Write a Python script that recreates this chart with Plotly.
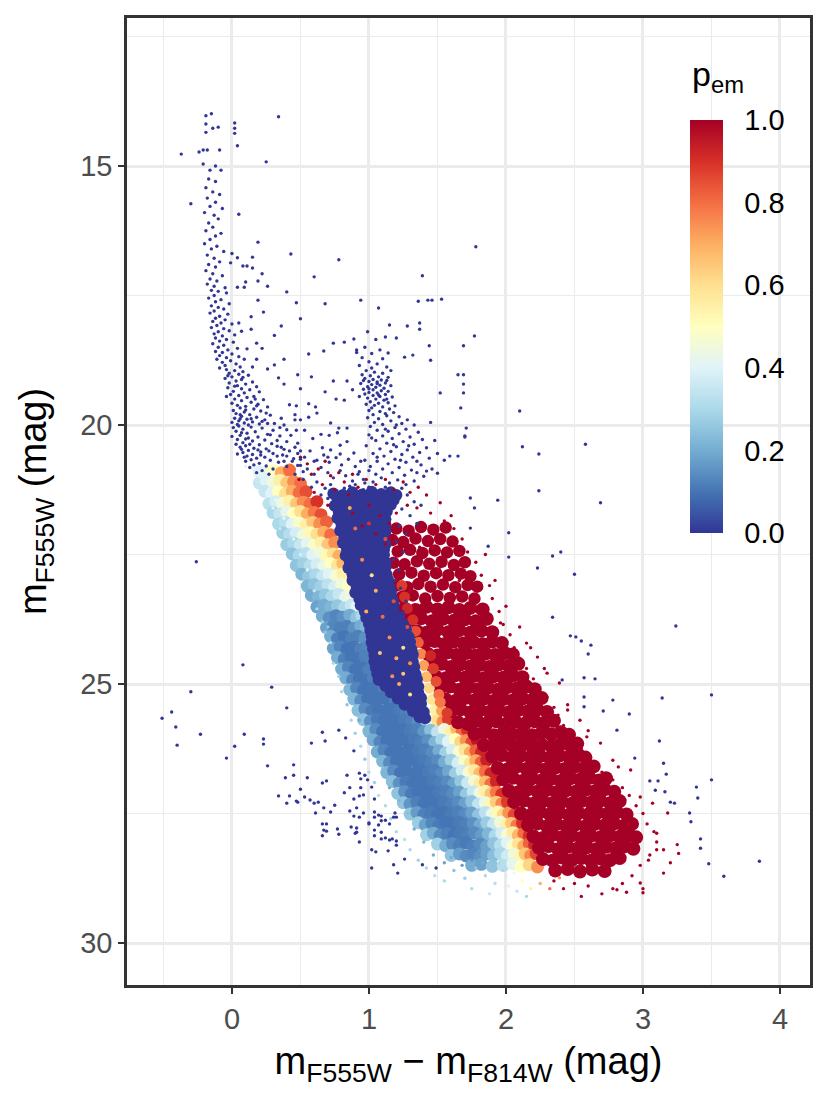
import plotly.graph_objects as go

# ---------------- data (colour index, magnitude[, p_em]) ----------------
# p_em = 0 : upper main sequence
upper_ms = [(-0.19,14.03),(-0.15,13.99),(-0.19,14.19),(-0.14,14.27),(-0.10,14.25),(-0.19,14.35),(0.02,14.17),(0.02,14.27),(0.02,14.37),(0.04,14.61),(-0.21,14.69),(-0.24,14.73),(-0.18,14.69),(-0.09,14.69),(-0.21,14.96),(-0.16,15.08),(-0.12,15.0),(-0.08,15.08),
(-0.17,15.25),(-0.12,15.3),(-0.19,15.42),(-0.14,15.5),(-0.09,15.55),(-0.18,15.62),(-0.12,15.7),(-0.16,15.78),(-0.07,15.82),(-0.2,15.9),(-0.13,15.95),(-0.1,16.02),(-0.17,16.1),(-0.14,16.18),(-0.19,16.25),(-0.08,16.3),(-0.12,16.35),(-0.16,16.42),(-0.2,16.5),(-0.11,16.55),(-0.15,16.6),(-0.06,16.65),(-0.18,16.72),(-0.13,16.78),(-0.09,16.85),(-0.17,16.9),(-0.12,16.95),(-0.19,17.02),(-0.14,17.08),(-0.07,17.12),(-0.16,17.18),(-0.11,17.22),(-0.18,17.28),(-0.13,17.32),(-0.05,17.35),
(-0.15,17.4),(-0.1,17.42),(-0.04,17.45),(-0.13,17.5),(-0.17,17.55),(-0.08,17.58),(-0.12,17.62),(-0.02,17.66),(-0.15,17.7),(-0.1,17.73),(-0.06,17.76),(-0.13,17.8),(-0.16,17.84),(-0.03,17.86),(-0.09,17.9),(-0.12,17.94),(-0.05,17.97),(-0.14,18.0),(-0.08,18.03),(0.0,18.05),(-0.11,18.08),(-0.15,18.12),(-0.06,18.14),(-0.02,18.18),(-0.1,18.2),(-0.13,18.24),(0.02,18.26),(-0.07,18.28),(-0.12,18.32),(-0.04,18.35),(-0.09,18.38),(0.01,18.4),(-0.14,18.43),(-0.06,18.46),(-0.1,18.5),(0.04,18.52),(-0.03,18.55),(-0.12,18.58),(-0.07,18.6),(0.0,18.63),(-0.09,18.66),(0.05,18.68),(-0.04,18.7),(-0.11,18.73),(-0.01,18.76),(-0.07,18.79),(0.03,18.82),(-0.05,18.85),(0.06,18.88),(-0.09,18.9),
(-0.04,18.93),(0.02,18.95),(0.08,18.97),(-0.02,19.0),(0.05,19.02),(0.12,19.04),(0.0,19.07),(-0.05,19.1),(0.07,19.12),(0.03,19.15),(0.15,19.17),(-0.02,19.19),(0.1,19.21),(0.04,19.24),(0.18,19.26),(-0.03,19.28),(0.07,19.3),(0.13,19.32),(0.01,19.35),(0.2,19.36),(0.09,19.38),(-0.01,19.41),(0.05,19.43),(0.16,19.45),(0.11,19.47),(0.02,19.5),(0.23,19.51),(0.07,19.53),(0.14,19.56),(0.0,19.58),(0.19,19.6),(0.04,19.62),(0.1,19.64),(0.26,19.65),(0.06,19.67),(0.16,19.69),(0.01,19.72),(0.21,19.73),(0.09,19.75),(0.03,19.78),(0.13,19.8),(0.28,19.81),(0.07,19.83),(0.18,19.85),(0.02,19.87),(0.11,19.89),(0.24,19.9),(0.05,19.92),(0.15,19.94),(0.09,19.96),(0.31,19.97),(0.2,19.98),(0.04,19.99),(0.12,20.0),(-0.03,19.05),(-0.04,19.45),(0.08,19.08),(0.02,19.25),(0.06,19.88),(0.0,19.95),(0.17,19.5),
(0.05,20.02),(0.14,20.04),(0.22,20.06),(0.08,20.08),(0.3,20.1),(0.03,20.12),(0.17,20.13),(0.11,20.16),(0.26,20.18),(0.06,20.2),(0.35,20.21),(0.19,20.23),(0.12,20.25),(0.04,20.28),(0.24,20.29),(0.15,20.31),(0.4,20.32),(0.08,20.34),(0.29,20.36),(0.2,20.38),(0.1,20.4),(0.33,20.41),(0.06,20.43),(0.16,20.45),(0.25,20.46),(0.12,20.49),(0.42,20.5),(0.21,20.52),(0.08,20.53),(0.3,20.55),(0.15,20.57),(0.37,20.58),(0.11,20.6),(0.24,20.62),(0.18,20.64),(0.45,20.65),(0.14,20.67),(0.28,20.68),(0.1,20.7),(0.34,20.72),(0.2,20.74),(0.16,20.77),(0.25,20.79),(0.4,20.8),(0.13,20.82),(0.3,20.85),(0.22,20.88),(0.18,20.92),(0.27,20.95),(0.48,20.78),(0.52,20.9),
(0.01,20.05),(0.07,20.15),(0.0,20.22),(0.1,20.27),(0.03,20.37),(0.13,20.37),(0.07,20.47),(0.19,20.48),(0.04,20.56),(0.09,20.62),(0.21,20.58),(0.27,20.5),(0.33,20.6),(0.38,20.7),(0.06,19.8),(0.14,19.88),(0.22,19.93),(0.1,19.71),(0.18,19.63),(0.25,19.77),(0.35,20.05),(0.43,20.2),(0.48,20.35),(0.5,20.5),(0.36,20.43)]

# p_em = 0 : stars scattered between the main sequence and the giant branch
ms_scatter = [(0.34,14.05),(0.25,14.92),(-0.30,15.73),(-0.37,14.77),(0.05,15.93),(0.19,16.47),(0.43,16.7),(0.78,16.81),(0.60,17.14),(1.39,17.12),(0.94,17.59),(1.36,17.61),(1.43,17.59),(1.46,17.59),(1.53,17.57),(0.68,17.66),(0.47,17.64),(0.50,17.95),(1.07,17.74),(1.77,18.28),(1.69,18.47),(1.37,18.03),(1.37,18.15),(1.28,18.09),(1.15,18.07),(1.12,18.30),(1.20,18.32),(0.89,18.34),(0.91,18.55),(0.74,18.42),(0.82,18.40),(0.67,18.57),(0.56,18.63),(1.14,18.61),(1.26,18.69),(1.32,18.65),(1.44,18.47),(1.45,18.75),(1.69,19.03),(1.65,19.03),(1.69,19.21),(1.69,19.38),(1.52,19.38),(1.67,19.67),(1.71,20.06),(1.70,20.21),(1.65,20.6),(1.59,20.6),(1.55,20.68),(1.50,20.93),(1.42,20.89),
(0.0,16.69),(0.04,16.77),(0.15,16.76),(0.08,16.93),(0.11,16.93),(0.15,16.97),(-0.01,16.87),(0.22,17.08),(0.19,17.22),(0.1,17.24),(0.26,17.32),(0.04,17.34),(0.09,17.34),(0.40,17.43),(0.19,17.59),(0.23,17.82),(0.14,17.91),(0.05,18.03),(0.14,18.15),(0.36,18.09),(0.31,18.27),(0.07,18.19),(0.18,18.42),(0.22,18.52),(0.11,18.53),(0.09,18.73),(0.18,18.73),(0.15,18.88),(0.26,18.92),(0.31,18.84),(0.38,18.73),(0.34,19.09),(0.38,19.21),(0.48,19.03),(0.58,19.07),(0.50,19.3),(0.68,19.36),(0.74,19.15),(0.84,19.15),(0.88,19.32),(0.82,19.52),(0.76,19.5),(0.56,19.59),(0.61,19.65),(0.62,19.77),(0.56,19.85),(0.42,19.61),(0.47,19.63),(0.36,19.87),(0.46,19.8),(0.46,19.9),(0.5,19.9),(0.53,20.1),(0.47,20.1),(0.40,20.09),(0.38,20.0),(0.72,19.96),(0.78,20.06),(0.84,20.06),(0.77,20.15),(0.71,20.2),(0.65,20.18),(0.59,20.26),(0.66,20.44),(0.72,20.48),(0.79,20.39),(0.84,20.32),(0.89,20.54),(0.79,20.56),(0.70,20.62),(0.6,20.7),(0.5,20.66),(0.46,20.43),(0.38,20.47),(0.33,20.3),(0.28,20.19),(0.26,19.97),(1.78,16.56),(2.1,19.73)]

# p_em = 0 : red clump and red giant branch
rgb = [(0.98,18.95),(1.04,18.98),(1.1,19.0),(0.95,19.03),(1.01,19.05),(1.07,19.07),(1.14,19.08),(0.97,19.1),(1.03,19.12),(1.09,19.13),(1.0,19.16),(1.06,19.17),(1.12,19.19),(0.94,19.2),(1.02,19.22),(1.08,19.23),(1.16,19.24),(0.99,19.26),(1.05,19.27),(1.11,19.29),(0.96,19.31),(1.03,19.32),(1.09,19.34),(1.14,19.35),(1.0,19.37),(1.06,19.38),(0.97,19.4),(1.12,19.41),(1.03,19.43),(1.08,19.45),(1.17,19.46),(0.99,19.48),(1.05,19.5),(1.11,19.52),(1.01,19.55),(1.14,19.57),(1.07,19.58),(0.98,19.6),(1.04,19.62),(1.19,19.63),(1.1,19.65),(1.02,19.67),(1.15,19.69),(0.96,19.14),(1.13,19.14),(1.06,19.2),(1.0,19.3),(1.07,19.42),(1.13,19.5),(0.93,19.45),
(0.99,18.2),(1.05,18.35),(0.97,18.5),(1.08,18.55),(1.02,18.62),(0.95,18.7),(1.1,18.72),(1.0,18.78),(1.06,18.82),(0.93,18.85),(1.13,18.88),(1.02,18.9),(0.91,18.6),(1.16,18.95),
(1.0,19.72),(1.08,19.74),(1.18,19.76),(1.03,19.8),(1.13,19.82),(1.22,19.84),(0.99,19.86),(1.07,19.88),(1.28,19.9),(1.16,19.92),(1.04,19.95),(1.24,19.97),(1.1,19.99),(1.33,20.0),(1.01,20.03),(1.19,20.05),(1.27,20.08),(1.06,20.1),(1.14,20.12),(1.36,20.14),(1.22,20.17),(1.0,20.19),(1.1,20.21),(1.3,20.23),(1.17,20.26),(1.39,20.28),(1.05,20.3),(1.25,20.32),(1.13,20.35),(1.33,20.37),(0.98,20.4),(1.2,20.42),(1.42,20.44),(1.08,20.46),(1.28,20.48),(1.16,20.51),(1.37,20.53),(1.03,20.55),(1.24,20.57),(1.11,20.6),(1.32,20.62),(1.44,20.64),(1.19,20.66),(0.97,20.68),(1.06,20.7),(1.27,20.72),(1.14,20.75),(1.38,20.77),(1.01,20.8),(1.22,20.82),(1.1,20.85),(1.31,20.87),(0.93,20.9),(1.17,20.92),(1.05,20.95),(1.26,20.97),(1.4,20.99),(1.12,19.78),(1.2,20.0),(1.35,20.7),(1.45,19.95),(1.48,20.3),(1.5,20.55),(1.46,20.85),
(0.96,21.05),(1.03,21.1),(1.09,21.02),(1.15,21.12),(1.21,21.06),(1.27,21.15),(1.33,21.08),(0.9,21.15),(1.12,21.2),(1.24,21.22),(1.0,21.2),(1.06,20.62),(1.18,20.38),(1.29,20.4),(1.12,20.08),(1.02,20.25),(1.23,20.68),(1.35,20.92)]

# p_em = 0 : stars between the main-sequence turn-off and the wedge
bridge = [(0.48,20.55),(0.53,20.62),(0.57,20.5),(0.62,20.68),(0.67,20.58),(0.71,20.72),(0.76,20.63),(0.8,20.77),(0.85,20.66),(0.9,20.8),(0.94,20.7),(0.55,20.85),(0.6,20.95),(0.65,20.82),(0.7,20.92),(0.74,21.02),(0.79,20.88),(0.83,20.98),(0.88,21.08),(0.92,20.95),(0.97,21.12),(0.62,21.1),(0.68,21.22),(0.72,21.15),(0.77,21.3),(0.82,21.22),(0.86,21.18),(0.91,21.28),(0.96,21.25),(0.58,21.2),(0.65,21.35),(0.7,21.42),(0.75,21.5),(0.8,21.45),(0.44,20.7),(0.5,20.78),(0.46,20.95),(0.52,21.05),(0.4,20.6),(1.0,20.88),(1.28,21.35),(1.33,21.48),(1.38,21.55),(1.24,21.62),(1.3,21.75),(1.35,21.9),(1.22,21.95),(1.27,22.1),(1.2,22.25),(1.25,22.45),(1.18,22.6),(1.22,22.8),(1.19,23.0),(1.23,23.15),(1.27,23.4),(1.25,23.6)]

# p_em = 0 : field stars
field = [(0.08,24.63),(-0.30,25.15),(0.29,25.06),(-0.44,25.54),(-0.51,25.66),(-0.41,25.83),(-0.40,26.18),(-0.23,25.97),(0.40,25.46),(0.09,25.97),(0.02,26.2),(-0.04,26.43),(0.23,26.06),(0.23,26.16),(0.26,26.58),(0.66,25.93),(0.78,25.89),(0.58,26.14),(0.68,26.1),(0.83,26.04),(0.89,26.29),(0.45,26.56),(0.45,26.76),(0.39,26.81),(0.55,26.81),(0.66,26.91),(0.69,26.87),(0.50,27.03),(0.84,26.76),(0.93,26.72),(0.97,26.76),(0.94,26.83),(0.99,26.85),(0.86,27.0),(0.94,27.0),(1.02,26.99),(0.34,27.16),(0.42,27.16),(0.40,27.3),(0.47,27.26),(0.48,27.28),(0.53,27.18),(0.57,27.24),(0.60,27.3),(0.63,27.28),(0.82,27.1),(0.89,27.22),(0.93,27.16),(0.96,27.14),(1.04,27.22),(0.75,27.34),(0.67,27.39),(0.72,27.47),(0.61,27.49),(0.86,27.45),(0.91,27.39),(0.96,27.49),(0.89,27.55),(0.93,27.57),(1.0,27.68),(1.04,27.47),(1.04,27.57),(1.07,27.53),(1.09,27.55),(1.09,27.64),(1.12,27.63),(1.15,27.70),(1.19,27.49),(1.20,27.57),(1.18,27.57),(0.66,27.70),(0.69,27.70),(0.67,27.82),(0.69,27.84),(0.66,27.93),(0.77,27.80),(0.78,27.90),(0.87,27.76),(0.91,27.78),(0.90,27.88),(0.91,27.86),(0.93,28.05),(1.0,27.70),(1.04,27.82),(1.07,27.72),(1.04,27.93),(1.09,27.86),(1.09,27.99),(1.12,27.97),(1.15,28.01),(1.17,27.99),(1.20,28.03),(1.20,28.11),(1.02,28.2),(1.05,28.24),(1.14,28.22),(1.02,28.55),(1.18,28.49),(1.21,28.65),(1.26,28.38),(1.49,28.55),(1.39,28.49),(-0.26,22.64),
(1.70,20.23),(2.12,20.42),(2.24,20.56),(2.58,20.37),(2.24,21.27),(1.94,21.45),(2.69,21.5),(1.74,21.41),(1.77,21.6),(1.74,21.99),(1.87,22.34),(2.02,22.08),(2.02,22.55),(2.23,22.76),(2.34,22.53),(2.40,22.45),(2.50,22.88),(2.34,23.71),(2.47,24.07),(2.51,24.09),(2.55,24.17),(2.62,24.25),(2.60,24.42),(3.24,23.88),(2.41,24.92),(2.57,24.88),(2.65,24.9),(2.57,25.25),(2.57,25.44),(2.71,25.52),(2.78,25.31),(2.90,25.58),(3.14,25.27),(3.50,25.21),(2.81,25.89),(2.94,26.43),(3.12,26.1),(3.15,26.53),(3.17,26.74),(3.05,26.87),(3.11,26.87),(3.09,27.05),(3.16,27.08),(3.50,26.85),(3.39,26.99),(3.40,27.2),(3.20,27.28),(3.23,27.3),(3.34,27.49),(3.35,27.66),(3.42,27.99),(3.42,28.17),(3.48,28.47),(3.59,28.71),(3.85,28.42)]

# p_em = 0 : dense wedge below the giant branch
wedge = [(0.74,21.32),(0.81,21.35),(0.88,21.3),(0.95,21.34),(1.02,21.29),(1.09,21.33),(1.16,21.3),(1.2,21.35),
(0.77,21.44),(0.84,21.41),(0.91,21.46),(0.98,21.43),(1.05,21.47),(1.12,21.42),(1.18,21.45),
(0.75,21.56),(0.82,21.59),(0.89,21.54),(0.96,21.57),(1.03,21.55),(1.1,21.58),(1.16,21.54),
(0.78,21.68),(0.85,21.65),(0.92,21.7),(0.99,21.66),(1.06,21.69),(1.13,21.67),
(0.77,21.8),(0.84,21.83),(0.91,21.78),(0.98,21.81),(1.05,21.79),(1.12,21.82),
(0.8,21.92),(0.87,21.9),(0.94,21.94),(1.01,21.91),(1.08,21.93),(1.12,21.95),
(0.79,22.04),(0.86,22.06),(0.93,22.02),(1.0,22.05),(1.07,22.03),(1.12,22.06),
(0.82,22.16),(0.89,22.14),(0.96,22.18),(1.03,22.15),(1.1,22.17),
(0.81,22.28),(0.88,22.3),(0.95,22.26),(1.02,22.29),(1.09,22.27),(1.12,22.3),
(0.84,22.4),(0.91,22.38),(0.98,22.42),(1.05,22.39),(1.11,22.41),
(0.83,22.52),(0.9,22.54),(0.97,22.5),(1.04,22.53),(1.11,22.51),
(0.86,22.64),(0.93,22.62),(1.0,22.66),(1.07,22.63),(1.12,22.65),
(0.85,22.76),(0.92,22.78),(0.99,22.74),(1.06,22.77),(1.12,22.75),
(0.88,22.88),(0.95,22.86),(1.02,22.9),(1.09,22.87),(1.13,22.89),
(0.88,23.0),(0.95,23.02),(1.02,22.98),(1.09,23.01),(1.14,22.99),
(0.91,23.12),(0.98,23.1),(1.05,23.14),(1.12,23.11),(1.15,23.13),
(0.9,23.24),(0.97,23.26),(1.04,23.22),(1.11,23.25),(1.16,23.23),
(0.93,23.36),(1.0,23.34),(1.07,23.38),(1.14,23.35),(1.17,23.37),
(0.94,23.48),(1.01,23.5),(1.08,23.46),(1.15,23.49),(1.18,23.47),
(0.97,23.6),(1.04,23.58),(1.11,23.62),(1.18,23.59),
(0.98,23.72),(1.05,23.74),(1.12,23.7),(1.19,23.73),(1.22,23.71),
(1.0,23.84),(1.07,23.82),(1.14,23.86),(1.21,23.83),(1.25,23.85),
(1.01,23.96),(1.08,23.98),(1.15,23.94),(1.22,23.97),(1.27,23.95),
(1.02,24.08),(1.09,24.06),(1.16,24.1),(1.23,24.07),(1.29,24.09),
(1.02,24.2),(1.09,24.22),(1.16,24.18),(1.23,24.21),(1.3,24.19),
(1.03,24.32),(1.1,24.3),(1.17,24.34),(1.24,24.31),(1.31,24.33),
(1.04,24.44),(1.11,24.46),(1.18,24.42),(1.25,24.45),(1.32,24.43),
(1.04,24.56),(1.11,24.54),(1.18,24.58),(1.25,24.55),(1.32,24.57),
(1.05,24.68),(1.12,24.7),(1.19,24.66),(1.26,24.69),(1.33,24.67),
(1.06,24.8),(1.13,24.78),(1.2,24.82),(1.27,24.79),(1.34,24.81),
(1.07,24.92),(1.14,24.94),(1.21,24.9),(1.28,24.93),(1.35,24.91),
(1.12,25.04),(1.19,25.02),(1.26,25.06),(1.33,25.03),(1.36,25.05),
(1.16,25.16),(1.23,25.18),(1.3,25.14),(1.36,25.17),
(1.21,25.28),(1.28,25.26),(1.35,25.3),(1.38,25.27),
(1.26,25.4),(1.32,25.42),(1.38,25.38),
(1.32,25.52),(1.37,25.5),(1.4,25.54),
(1.37,25.64),(1.41,25.66)]

# lower main sequence, dense part: (colour, mag, p_em)
lower_ms = [(0.2,20.9,0.4),(0.25,20.93,0.42),(0.3,20.88,0.5),(0.36,20.92,0.7),(0.42,20.87,0.8),
(0.2,21.12,0.35),(0.25,21.08,0.4),(0.3,21.11,0.45),(0.35,21.07,0.55),(0.4,21.12,0.65),(0.45,21.09,0.75),(0.5,21.13,0.8),
(0.24,21.28,0.35),(0.29,21.32,0.4),(0.34,21.29,0.5),(0.39,21.33,0.6),(0.44,21.28,0.7),(0.49,21.31,0.8),(0.54,21.29,0.85),
(0.27,21.52,0.33),(0.32,21.48,0.38),(0.37,21.51,0.45),(0.42,21.47,0.55),(0.47,21.52,0.65),(0.52,21.49,0.75),(0.57,21.53,0.8),(0.62,21.48,0.9),
(0.3,21.69,0.3),(0.35,21.72,0.35),(0.4,21.68,0.42),(0.45,21.71,0.5),(0.5,21.67,0.6),(0.55,21.72,0.7),(0.6,21.69,0.78),(0.65,21.73,0.85),
(0.34,21.91,0.3),(0.39,21.88,0.33),(0.44,21.92,0.4),(0.49,21.89,0.48),(0.54,21.93,0.55),(0.59,21.88,0.65),(0.64,21.91,0.75),(0.69,21.87,0.82),
(0.37,22.08,0.28),(0.42,22.12,0.32),(0.47,22.09,0.38),(0.52,22.13,0.45),(0.57,22.08,0.52),(0.62,22.11,0.6),(0.67,22.07,0.7),(0.72,22.12,0.8),
(0.4,22.31,0.27),(0.45,22.28,0.3),(0.5,22.32,0.35),(0.55,22.29,0.42),(0.6,22.33,0.48),(0.65,22.28,0.55),(0.7,22.31,0.65),(0.75,22.27,0.75),
(0.44,22.49,0.25),(0.49,22.52,0.3),(0.54,22.48,0.33),(0.59,22.51,0.4),(0.64,22.47,0.45),(0.69,22.52,0.52),(0.74,22.49,0.6),(0.78,22.53,0.7),
(0.47,22.71,0.25),(0.52,22.68,0.28),(0.57,22.72,0.32),(0.62,22.69,0.38),(0.67,22.73,0.43),(0.72,22.68,0.5),(0.77,22.71,0.58),(0.81,22.67,0.68),
(0.51,22.88,0.22),(0.56,22.92,0.26),(0.61,22.89,0.3),(0.66,22.93,0.35),(0.71,22.88,0.4),(0.76,22.91,0.47),(0.81,22.87,0.55),
(0.55,23.11,0.22),(0.6,23.08,0.25),(0.65,23.12,0.28),(0.7,23.09,0.33),(0.75,23.13,0.38),(0.8,23.08,0.45),(0.85,23.11,0.5),
(0.58,23.29,0.2),(0.63,23.32,0.22),(0.68,23.28,0.26),(0.73,23.31,0.3),(0.78,23.27,0.35),(0.83,23.32,0.42),(0.87,23.29,0.45),
(0.62,23.51,0.18),(0.67,23.48,0.2),(0.72,23.52,0.22),(0.77,23.49,0.26),(0.82,23.53,0.3),(0.87,23.48,0.35),(0.91,23.51,0.4),
(0.66,23.69,0.2),(0.71,23.72,0.15),(0.76,23.68,0.13),(0.81,23.71,0.15),(0.86,23.67,0.2),(0.91,23.72,0.25),(0.95,23.69,0.3),
(0.69,23.91,0.18),(0.74,23.88,0.13),(0.79,23.92,0.12),(0.84,23.89,0.12),(0.89,23.93,0.15),(0.94,23.88,0.2),(0.98,23.91,0.22),
(0.72,24.08,0.2),(0.77,24.12,0.12),(0.82,24.09,0.1),(0.87,24.13,0.12),(0.92,24.08,0.12),(0.97,24.11,0.15),
(0.74,24.31,0.18),(0.79,24.28,0.13),(0.84,24.32,0.1),(0.89,24.29,0.1),(0.94,24.33,0.12),(0.99,24.28,0.13),
(0.77,24.49,0.2),(0.82,24.52,0.12),(0.87,24.48,0.1),(0.92,24.51,0.1),(0.97,24.47,0.12),(1.01,24.52,0.12),
(0.8,24.71,0.2),(0.85,24.68,0.13),(0.9,24.72,0.1),(0.95,24.69,0.1),(1.0,24.73,0.12),(1.04,24.68,0.12),
(0.83,24.88,0.2),(0.88,24.92,0.13),(0.93,24.89,0.1),(0.98,24.93,0.1),(1.03,24.88,0.12),(1.07,24.91,0.12),(1.12,24.97,0.13),
(0.86,25.11,0.22),(0.91,25.08,0.13),(0.96,25.12,0.1),(1.01,25.09,0.1),(1.06,25.13,0.1),(1.11,25.08,0.12),(1.16,25.14,0.13),
(0.89,25.29,0.22),(0.94,25.32,0.14),(0.99,25.28,0.1),(1.04,25.31,0.1),(1.09,25.27,0.1),(1.14,25.32,0.1),(1.19,25.33,0.12),(1.24,25.36,0.13),
(0.92,25.51,0.24),(0.97,25.48,0.14),(1.02,25.52,0.11),(1.07,25.49,0.1),(1.12,25.53,0.1),(1.17,25.48,0.1),(1.22,25.52,0.11),(1.27,25.55,0.12),(1.32,25.58,0.15),
(0.96,25.69,0.25),(1.01,25.72,0.15),(1.06,25.68,0.11),(1.11,25.71,0.1),(1.16,25.67,0.1),(1.21,25.72,0.1),(1.26,25.69,0.11),(1.31,25.73,0.12),(1.36,25.74,0.15),(1.41,25.76,0.25),(1.46,25.72,0.45),(1.5,25.69,0.6),(1.54,25.73,0.75),(1.58,25.68,0.88),
(1.0,25.91,0.22),(1.05,25.88,0.14),(1.1,25.92,0.1),(1.15,25.89,0.1),(1.2,25.93,0.1),(1.25,25.88,0.1),(1.3,25.91,0.11),(1.35,25.87,0.12),(1.4,25.92,0.16),(1.45,25.89,0.24),(1.5,25.93,0.34),(1.55,25.88,0.44),(1.6,25.91,0.55),(1.64,25.87,0.68),(1.68,25.92,0.8),(1.72,25.89,0.9),
(1.03,26.08,0.2),(1.08,26.12,0.13),(1.13,26.09,0.1),(1.18,26.13,0.1),(1.23,26.08,0.1),(1.28,26.11,0.1),(1.33,26.07,0.11),(1.38,26.12,0.12),(1.43,26.09,0.15),(1.48,26.13,0.22),(1.53,26.08,0.3),(1.58,26.11,0.4),(1.63,26.07,0.5),(1.67,26.12,0.62),(1.71,26.09,0.74),(1.75,26.13,0.86),(1.79,26.08,0.95),
(1.06,26.31,0.2),(1.11,26.28,0.13),(1.16,26.32,0.1),(1.21,26.29,0.1),(1.26,26.33,0.1),(1.31,26.28,0.1),(1.36,26.31,0.11),(1.41,26.27,0.12),(1.46,26.32,0.14),(1.51,26.29,0.2),(1.56,26.33,0.28),(1.61,26.28,0.38),(1.66,26.31,0.48),(1.7,26.27,0.58),(1.74,26.32,0.7),(1.78,26.29,0.82),(1.82,26.33,0.92),
(1.1,26.49,0.22),(1.15,26.52,0.14),(1.2,26.48,0.1),(1.25,26.51,0.1),(1.3,26.47,0.1),(1.35,26.52,0.1),(1.4,26.49,0.11),(1.45,26.53,0.12),(1.5,26.48,0.14),(1.55,26.51,0.2),(1.6,26.47,0.28),(1.65,26.52,0.38),(1.7,26.49,0.48),(1.74,26.53,0.58),(1.78,26.48,0.7),(1.82,26.51,0.82),(1.86,26.47,0.93),
(1.13,26.71,0.22),(1.18,26.68,0.14),(1.23,26.72,0.1),(1.28,26.69,0.1),(1.33,26.73,0.1),(1.38,26.68,0.1),(1.43,26.71,0.11),(1.48,26.67,0.12),(1.53,26.72,0.14),(1.58,26.69,0.19),(1.63,26.73,0.27),(1.68,26.68,0.37),(1.73,26.71,0.47),(1.77,26.67,0.57),(1.81,26.72,0.68),(1.85,26.69,0.8),(1.89,26.73,0.92),
(1.17,26.88,0.24),(1.22,26.92,0.15),(1.27,26.89,0.11),(1.32,26.93,0.1),(1.37,26.88,0.1),(1.42,26.91,0.1),(1.47,26.87,0.11),(1.52,26.92,0.12),(1.57,26.89,0.14),(1.62,26.93,0.18),(1.67,26.88,0.26),(1.72,26.91,0.36),(1.77,26.87,0.46),(1.81,26.92,0.56),(1.85,26.89,0.67),(1.89,26.93,0.8),(1.93,26.88,0.92),
(1.21,27.11,0.25),(1.26,27.08,0.15),(1.31,27.12,0.11),(1.36,27.09,0.1),(1.41,27.13,0.1),(1.46,27.08,0.1),(1.51,27.11,0.11),(1.56,27.07,0.12),(1.61,27.12,0.14),(1.66,27.09,0.18),(1.71,27.13,0.26),(1.76,27.08,0.35),(1.81,27.11,0.45),(1.85,27.07,0.55),(1.89,27.12,0.66),(1.93,27.09,0.78),(1.97,27.13,0.9),
(1.25,27.29,0.25),(1.3,27.32,0.16),(1.35,27.28,0.12),(1.4,27.31,0.1),(1.45,27.27,0.1),(1.5,27.32,0.1),(1.55,27.29,0.11),(1.6,27.33,0.12),(1.65,27.28,0.14),(1.7,27.31,0.18),(1.75,27.27,0.25),(1.8,27.32,0.34),(1.85,27.29,0.44),(1.89,27.33,0.53),(1.93,27.28,0.64),(1.97,27.31,0.76),(2.01,27.27,0.88),
(1.3,27.51,0.26),(1.35,27.48,0.17),(1.4,27.52,0.12),(1.45,27.49,0.11),(1.5,27.53,0.1),(1.55,27.48,0.1),(1.6,27.51,0.11),(1.65,27.47,0.12),(1.7,27.52,0.14),(1.75,27.49,0.18),(1.8,27.53,0.25),(1.85,27.48,0.33),(1.9,27.51,0.43),(1.94,27.47,0.52),(1.98,27.52,0.62),(2.02,27.49,0.74),(2.06,27.53,0.86),
(1.36,27.68,0.27),(1.41,27.72,0.18),(1.46,27.69,0.13),(1.51,27.73,0.11),(1.56,27.68,0.1),(1.61,27.71,0.1),(1.66,27.67,0.11),(1.71,27.72,0.12),(1.76,27.69,0.15),(1.81,27.73,0.2),(1.86,27.68,0.27),(1.91,27.71,0.35),(1.96,27.67,0.45),(2.0,27.72,0.54),(2.04,27.69,0.65),(2.08,27.73,0.78),(2.12,27.68,0.9),
(1.42,27.91,0.28),(1.47,27.88,0.2),(1.52,27.92,0.14),(1.57,27.89,0.12),(1.62,27.93,0.1),(1.67,27.88,0.11),(1.72,27.91,0.12),(1.77,27.87,0.14),(1.82,27.92,0.17),(1.87,27.89,0.22),(1.92,27.93,0.3),(1.97,27.88,0.38),(2.01,27.91,0.47),(2.05,27.87,0.56),(2.09,27.92,0.68),(2.13,27.89,0.8),(2.17,27.93,0.9),
(1.5,28.09,0.28),(1.56,28.12,0.2),(1.61,28.08,0.14),(1.66,28.11,0.12),(1.71,28.07,0.11),(1.76,28.12,0.12),(1.81,28.09,0.14),(1.86,28.13,0.18),(1.91,28.08,0.25),(1.96,28.11,0.32),(2.01,28.07,0.4),(2.05,28.12,0.48),(2.09,28.09,0.58),(2.13,28.13,0.7),(2.17,28.08,0.82),(2.21,28.11,0.92),
(1.6,28.31,0.25),(1.66,28.28,0.17),(1.71,28.32,0.14),(1.76,28.29,0.13),(1.81,28.33,0.15),(1.86,28.28,0.18),(1.91,28.31,0.24),(1.96,28.27,0.3),(2.01,28.32,0.37),(2.06,28.29,0.45),(2.1,28.33,0.53),(2.14,28.28,0.65),(2.18,28.31,0.76),(2.22,28.27,0.86),
(1.75,28.5,0.2),(1.82,28.48,0.18),(1.9,28.52,0.25),(1.98,28.5,0.32),(2.05,28.47,0.42),(2.11,28.52,0.5),(2.17,28.49,0.62),(2.23,28.53,0.75)]

# lower main sequence, sparse outer stars: (colour, mag, p_em)
lower_ms_edge = [(0.72,24.2,0.3),(0.68,24.0,0.25),(0.74,24.6,0.3),(0.78,24.85,0.28),(0.8,25.15,0.3),(0.84,25.4,0.25),(0.87,25.7,0.3),(0.9,25.95,0.28),(0.94,26.2,0.3),(0.97,26.45,0.25),(1.0,26.7,0.3),(1.04,26.9,0.28),(1.07,27.15,0.32),(1.12,27.35,0.3),(1.16,27.6,0.28),(1.2,27.85,0.3),(1.26,28.0,0.32),(1.3,28.2,0.3),(1.36,28.4,0.28),(1.42,28.55,0.3),(1.48,28.7,0.32),(1.55,28.8,0.3),(1.62,28.6,0.25),(1.7,28.75,0.28),(1.78,28.55,0.25),(1.85,28.7,0.3),(1.92,28.85,0.32),(1.98,28.6,0.3),(2.02,28.9,0.4),(2.08,29.0,0.35),(2.12,28.8,0.5),(2.18,28.95,0.55),(2.25,28.85,0.7),(2.32,28.95,0.8),(1.88,29.05,0.35),(1.75,28.95,0.3),(0.6,23.2,0.35),(0.55,22.8,0.4),(0.5,22.5,0.38),(0.45,22.2,0.4),(0.38,21.8,0.42),(0.32,21.45,0.45),(0.28,21.2,0.42),(0.2,21.0,0.4),(0.15,20.85,0.45),(0.1,20.8,0.42),(0.62,23.55,0.3),(0.66,23.8,0.28),(0.93,25.7,0.2),(0.98,26.0,0.22),(1.05,26.35,0.2),(1.1,26.65,0.22),(1.15,27.0,0.2),(1.22,27.25,0.22),(1.28,27.5,0.24),(1.33,27.8,0.2),(1.4,28.05,0.22),(1.47,28.3,0.2),(1.55,28.45,0.18),(1.6,28.35,0.2),(1.68,28.5,0.17),(1.75,28.4,0.15),(1.83,28.45,0.2),(1.9,28.55,0.25),(1.95,28.45,0.3),(2.0,28.7,0.38),(2.06,28.65,0.45),(2.39,28.74,0.75),(2.15,29.1,0.3),(0.35,22.0,0.35),(0.3,21.6,0.4),(0.7,23.9,0.25)]

# intermediate p_em stars along the right side of the wedge (dense) and specks on it
wedge_side = [(1.36,24.2,0.82),(1.38,24.42,0.76),(1.4,24.64,0.72),(1.42,24.86,0.68),(1.44,25.08,0.62),(1.46,25.3,0.58),(1.48,25.5,0.55),(1.53,25.52,0.72),(1.57,25.56,0.88),(1.34,23.98,0.85),(1.32,23.76,0.9),(1.28,23.54,0.92),(1.26,23.32,0.9),(1.24,23.1,0.88),(1.45,24.45,0.92),(1.47,24.7,0.88),(1.49,24.95,0.85),(1.51,25.2,0.8),(1.52,25.35,0.78)]
wedge_specks = [(0.95,22.6,0.75),(1.05,23.2,0.7),(1.1,23.7,0.8),(1.15,24.1,0.75),(1.2,24.5,0.7),(1.25,24.8,0.65),(1.02,22.9,0.6),(0.9,22.0,0.8),(1.18,23.4,0.85),(1.25,24.3,0.6),(1.28,23.9,0.85),(1.3,24.6,0.75),(1.0,21.9,0.9),(0.86,21.6,0.7),(1.08,24.4,0.65),(1.22,25.0,0.7),(1.3,25.2,0.6),(1.12,22.2,0.85),(0.98,23.6,0.7),(1.17,24.85,0.75)]

# p_em = 1 : upper (looser) part of the red sequence
red_upper = [(1.2,22.0),(1.29,22.04),(1.38,21.97),(1.47,22.02),(1.56,21.98),
(1.17,22.22),(1.25,22.26),(1.34,22.19),(1.43,22.24),(1.52,22.2),(1.61,22.25),
(1.21,22.44),(1.3,22.41),(1.39,22.47),(1.48,22.42),(1.57,22.46),(1.66,22.43),
(1.18,22.66),(1.26,22.69),(1.35,22.63),(1.44,22.68),(1.53,22.64),(1.62,22.7),(1.7,22.65),
(1.22,22.88),(1.31,22.85),(1.4,22.91),(1.49,22.86),(1.58,22.9),(1.67,22.87),(1.74,22.92),
(1.2,23.1),(1.28,23.13),(1.36,23.07),(1.45,23.12),(1.54,23.08),(1.63,23.13),(1.72,23.09),(1.79,23.12),
(1.24,23.32),(1.32,23.29),(1.41,23.35),(1.5,23.3),(1.59,23.34),(1.68,23.31),(1.77,23.35)]

# p_em = 1 : dense red sequence
red_core = [(1.26,23.54),(1.34,23.57),(1.42,23.51),(1.5,23.56),(1.58,23.52),(1.66,23.57),(1.74,23.53),(1.83,23.56),
(1.3,23.76),(1.38,23.73),(1.46,23.79),(1.54,23.74),(1.62,23.78),(1.7,23.75),(1.78,23.79),(1.86,23.74),
(1.35,23.98),(1.42,24.01),(1.5,23.95),(1.58,24.0),(1.66,23.96),(1.74,24.01),(1.82,23.97),(1.9,24.0),
(1.41,24.2),(1.48,24.17),(1.55,24.23),(1.62,24.18),(1.69,24.22),(1.76,24.19),(1.83,24.23),(1.9,24.18),(1.97,24.21),
(1.43,24.42),(1.5,24.45),(1.57,24.39),(1.64,24.44),(1.71,24.4),(1.78,24.45),(1.85,24.41),(1.92,24.44),(1.99,24.4),(2.05,24.43),
(1.46,24.64),(1.53,24.61),(1.6,24.67),(1.67,24.62),(1.74,24.66),(1.81,24.63),(1.88,24.67),(1.95,24.62),(2.02,24.65),(2.09,24.61),
(1.49,24.86),(1.56,24.89),(1.63,24.83),(1.7,24.88),(1.77,24.84),(1.84,24.89),(1.91,24.85),(1.98,24.88),(2.05,24.84),(2.12,24.87),
(1.52,25.08),(1.59,25.05),(1.66,25.11),(1.73,25.06),(1.8,25.1),(1.87,25.07),(1.94,25.11),(2.01,25.06),(2.08,25.09),(2.15,25.05),(2.21,25.1),
(1.56,25.3),(1.63,25.33),(1.7,25.27),(1.77,25.32),(1.84,25.28),(1.91,25.33),(1.98,25.29),(2.05,25.32),(2.12,25.28),(2.19,25.31),(2.26,25.27),
(1.6,25.52),(1.67,25.49),(1.74,25.55),(1.81,25.5),(1.88,25.54),(1.95,25.51),(2.02,25.55),(2.09,25.5),(2.16,25.53),(2.23,25.49),(2.3,25.54),
(1.65,25.74),(1.72,25.77),(1.79,25.71),(1.86,25.76),(1.93,25.72),(2.0,25.77),(2.07,25.73),(2.14,25.76),(2.21,25.72),(2.28,25.75),(2.35,25.71),
(1.77,25.96),(1.84,25.93),(1.91,25.99),(1.98,25.94),(2.05,25.98),(2.12,25.95),(2.19,25.99),(2.26,25.94),(2.33,25.97),(2.4,25.93),(2.46,25.98),
(1.84,26.18),(1.91,26.21),(1.98,26.15),(2.05,26.2),(2.12,26.16),(2.19,26.21),(2.26,26.17),(2.33,26.2),(2.4,26.16),(2.47,26.19),(2.52,26.15),
(1.9,26.4),(1.97,26.37),(2.04,26.43),(2.11,26.38),(2.18,26.42),(2.25,26.39),(2.32,26.43),(2.39,26.38),(2.46,26.41),(2.53,26.37),(2.58,26.42),
(1.94,26.62),(2.01,26.65),(2.08,26.59),(2.15,26.64),(2.22,26.6),(2.29,26.65),(2.36,26.61),(2.43,26.64),(2.5,26.6),(2.57,26.63),(2.64,26.59),
(1.98,26.84),(2.05,26.81),(2.12,26.87),(2.19,26.82),(2.26,26.86),(2.33,26.83),(2.4,26.87),(2.47,26.82),(2.54,26.85),(2.61,26.81),(2.68,26.86),(2.73,26.82),
(2.02,27.06),(2.09,27.09),(2.16,27.03),(2.23,27.08),(2.3,27.04),(2.37,27.09),(2.44,27.05),(2.51,27.08),(2.58,27.04),(2.65,27.07),(2.72,27.03),(2.79,27.08),
(2.06,27.28),(2.13,27.25),(2.2,27.31),(2.27,27.26),(2.34,27.3),(2.41,27.27),(2.48,27.31),(2.55,27.26),(2.62,27.29),(2.69,27.25),(2.76,27.3),(2.83,27.26),
(2.11,27.5),(2.18,27.53),(2.25,27.47),(2.32,27.52),(2.39,27.48),(2.46,27.53),(2.53,27.49),(2.6,27.52),(2.67,27.48),(2.74,27.51),(2.81,27.47),(2.88,27.52),
(2.16,27.72),(2.23,27.69),(2.3,27.75),(2.37,27.7),(2.44,27.74),(2.51,27.71),(2.58,27.75),(2.65,27.7),(2.72,27.73),(2.79,27.69),(2.86,27.74),(2.92,27.7),
(2.2,27.94),(2.27,27.97),(2.34,27.91),(2.41,27.96),(2.48,27.92),(2.55,27.97),(2.62,27.93),(2.69,27.96),(2.76,27.92),(2.83,27.95),(2.9,27.91),(2.95,27.96),
(2.24,28.16),(2.31,28.13),(2.38,28.19),(2.45,28.14),(2.52,28.18),(2.59,28.15),(2.66,28.19),(2.73,28.14),(2.8,28.17),(2.87,28.13),(2.93,28.18),
(2.27,28.38),(2.34,28.41),(2.41,28.35),(2.48,28.4),(2.55,28.36),(2.62,28.41),(2.69,28.37),(2.76,28.4),(2.83,28.36),
(2.36,28.6),(2.45,28.57),(2.54,28.62),(2.63,28.58),(2.72,28.61)]

# p_em = 1 : scattered red stars
red_sparse = [(0.5,20.62),(0.55,20.75),(0.58,20.95),(0.49,21.05),(0.63,20.85),(0.68,20.7),(0.72,20.98),(0.66,21.15),(0.78,20.92),(0.75,21.25),(0.82,21.1),(0.88,20.95),(0.85,21.35),(0.92,21.2),(0.98,21.05),(1.05,21.15),(1.12,21.05),(1.18,21.25),(1.25,21.1),(1.3,21.3),(1.36,21.2),(1.42,21.35),(1.28,21.55),(1.35,21.6),(1.45,21.7),(1.52,21.5),(1.2,21.7),(1.0,21.55),(1.08,21.75),(1.15,21.9),(0.95,21.95),(1.05,22.1),(1.12,22.3),(1.55,21.85),(1.62,22.0),(1.68,22.2),(1.72,22.45),(1.6,21.75),(1.78,22.65),(1.82,22.9),(1.88,23.1),(1.9,23.35),(1.95,23.6),(1.98,23.85),(2.03,24.05),(2.06,24.3),(2.1,24.5),(2.15,24.7),(2.2,24.9),(2.24,25.1),(2.3,25.25),(2.35,25.45),(2.38,25.6),(2.42,25.8),(2.47,25.95),(2.5,26.1),(2.55,26.25),(2.6,26.4),(2.66,26.55),(2.7,26.7),(2.78,26.85),(2.85,27.0),(2.9,27.15),(2.95,27.35),(3.0,27.5),(3.03,27.7),(3.08,27.85),(3.1,28.05),(3.05,28.3),(2.98,28.5),(2.92,28.7),(2.85,28.85),(2.78,28.95),(2.7,29.05),(2.6,28.9),(2.5,28.85),(2.42,28.95),(2.35,28.8),(2.55,29.1),(2.88,29.02),(3.0,28.95),(3.15,28.2),(3.2,28.45),(3.25,28.1),(2.82,26.6),(2.6,25.9),(2.45,25.4),(2.28,24.7),(2.18,24.3),(2.1,23.9),(2.0,23.5),(1.92,23.0),(1.85,22.5),(2.68,27.95),
(3.26,28.27),(3.15,28.65),(2.98,28.84),(3.0,29.03),(2.81,28.97),(2.69,28.63),(2.54,28.46),(2.42,28.55),(3.04,28.4),(3.1,28.2),(3.1,27.88),(3.18,27.49),(3.07,27.3),(2.98,27.18),(2.91,26.66),(2.78,26.47),(2.69,26.14),(2.59,26.02),(2.54,25.7),(2.45,25.5),(2.39,24.98),(2.3,24.79),(2.23,24.48),(2.15,24.21),(1.96,23.82),(1.86,23.57),(1.79,23.61),(1.76,23.42),(1.66,23.0),(1.52,22.74),(1.59,22.74),(1.37,22.36),(1.33,22.4),(0.6,21.3),(0.7,21.55),(0.88,21.7)]

X_TICKS = [0, 1, 2, 3, 4]
Y_TICKS = [15, 20, 25, 30]
CB_TICKS = [0.0, 0.2, 0.4, 0.6, 0.8, 1.0]
CB_LABELS = ["0.0", "0.2", "0.4", "0.6", "0.8", "1.0"]

# ---------------- figure ----------------
RDYLBU_R = ['#313695', '#4575b4', '#74add1', '#abd9e9', '#e0f3f8', '#ffffbf',
            '#fee090', '#fdae61', '#f46d43', '#d73027', '#a50026']
colorscale = [[i / 10, c] for i, c in enumerate(RDYLBU_R)]

SPARSE = 3.4
fig = go.Figure()


def add(points, size, p=None):
    xs = [pt[0] for pt in points]
    ys = [pt[1] for pt in points]
    cs = [pt[2] for pt in points] if p is None else [p] * len(points)
    fig.add_trace(go.Scatter(x=xs, y=ys, mode="markers", hoverinfo="skip",
                             marker=dict(size=size, color=cs, coloraxis="coloraxis",
                                         line=dict(width=0))))


add(lower_ms, 13)
add(red_upper, 12.5, 1.0)
add(red_core, 14, 1.0)
add(wedge_side, 11)
add(wedge, 12, 0.0)
add(wedge_specks, 4)
add(lower_ms_edge, SPARSE)
add(red_sparse, SPARSE, 1.0)
add(upper_ms + ms_scatter + rgb + bridge + field, SPARSE, 0.0)

axis_common = dict(
    automargin=False,
    showgrid=True, gridcolor="#ebebeb", gridwidth=2.6, zeroline=False,
    showline=True, mirror=True, linecolor="#333333", linewidth=2.6,
    ticks="outside", ticklen=6, tickwidth=2.4, tickcolor="#333333",
    tickfont=dict(size=29, color="#4d4d4d"),
)

# the page adds an 8 px offset, so the margins are reduced by that amount on left/top
fig.update_layout(
    width=830, height=1107,
    margin=dict(l=119, r=28, t=10, b=130),
    paper_bgcolor="white", plot_bgcolor="white",
    font=dict(family="Liberation Sans, Arial, sans-serif", color="black"),
    showlegend=False,
    xaxis=dict(axis_common, range=[-0.766, 4.219], tickvals=X_TICKS,
               ticktext=[str(v) for v in X_TICKS],
               minor=dict(tickvals=[-0.5, 0.5, 1.5, 2.5, 3.5], showgrid=True,
                          gridcolor="#ebebeb", gridwidth=1.3),
               title=dict(text="m<sub>F555W</sub> \u2212 m<sub>F814W</sub> (mag)",
                          font=dict(size=38, color="black"), standoff=14)),
    yaxis=dict(axis_common, range=[30.81, 12.143], tickvals=Y_TICKS,
               ticktext=[str(v) for v in Y_TICKS],
               minor=dict(tickvals=[12.5, 17.5, 22.5, 27.5], showgrid=True,
                          gridcolor="#ebebeb", gridwidth=1.3),
               title=dict(text="m<sub>F555W</sub> (mag)",
                          font=dict(size=38, color="black"), standoff=22)),
    coloraxis=dict(
        colorscale=colorscale, cmin=0, cmax=1,
        colorbar=dict(
            x=0.8097, xanchor="left", xpad=10,
            y=0.681, yanchor="middle", len=0.4478, lenmode="fraction", ypad=10,
            thickness=33, thicknessmode="pixels",
            tickvals=CB_TICKS, ticktext=CB_LABELS,
            tickfont=dict(size=29, color="black"),
            ticks="outside", ticklen=16, tickwidth=1, tickcolor="rgba(255,255,255,0)",
            outlinewidth=0, bgcolor="rgba(0,0,0,0)",
        ),
    ),
    shapes=[dict(type="rect", xref="paper", yref="paper", layer="below",
                 x0=0.798, x1=0.9927, y0=0.454, y1=0.9545,
                 fillcolor="white", line=dict(width=0))],
    annotations=[dict(text="p<sub>em</sub>", xref="paper", yref="paper",
                      x=0.8243, y=0.9152, xanchor="left", yanchor="bottom",
                      showarrow=False, font=dict(size=34, color="black"))],
)

fig.write_html("out.html")
